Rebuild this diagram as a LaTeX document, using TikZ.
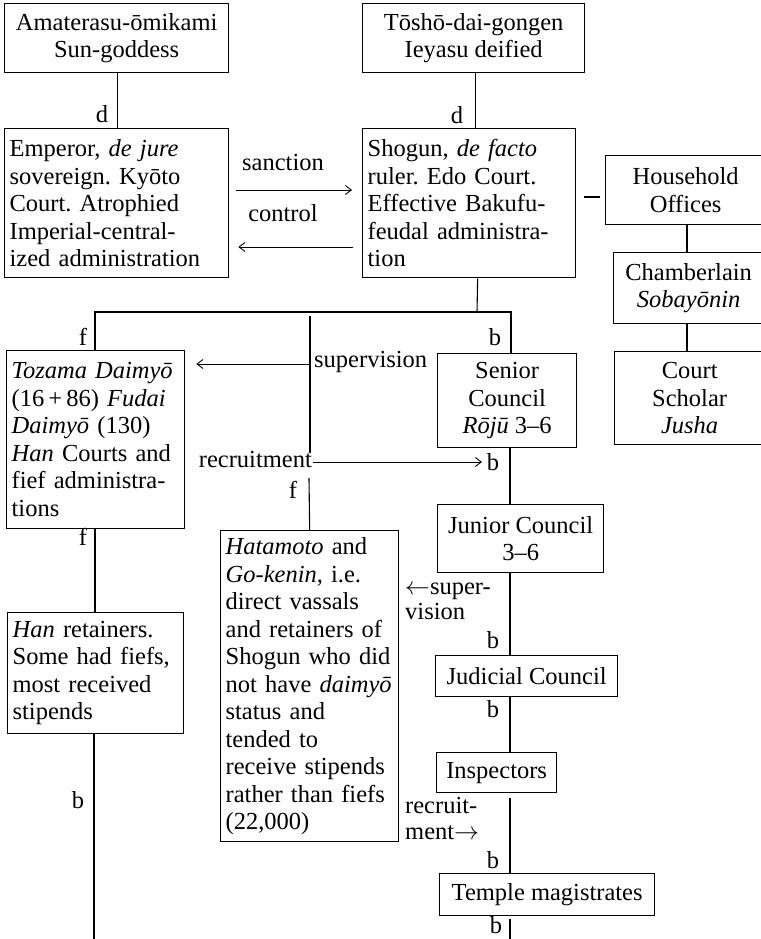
\documentclass[tikz,border=0pt]{standalone}
\usepackage{fontspec}
\setmainfont{Liberation Serif}
\usetikzlibrary{arrows.meta}
\frenchspacing
\newcommand{\fs}{\fontsize{24.5}{27.5}\selectfont}
\tikzset{
  box/.style={draw, line width=1.3pt, inner xsep=5pt, inner ysep=3pt, font=\fs, anchor=north west},
  conn/.style={line width=1.1pt},
  arr/.style={line width=0.9pt, -{Straight Barb[length=6pt,width=9pt]}},
  lbl/.style={font=\fs, inner sep=0pt},
}
\begin{document}
\begin{tikzpicture}[x=1pt,y=-1pt]
\fill[white] (0,0) rectangle (760,939);
\useasboundingbox (0,0) rectangle (760,939);

% boxes
\node[box, minimum width=224pt, minimum height=69pt, align=center] (ama) at (4,3)
  {Amaterasu-ōmikami\\Sun-goddess};
\node[box, minimum width=222pt, minimum height=69pt, align=center] (tosho) at (362,3)
  {Tōshō-dai-gongen\\Ieyasu deified};
\node[box, text width=214pt, minimum height=149pt, align=left] (emp) at (4,128)
  {Emperor, \textit{de jure}\\sovereign. Kyōto\\Court. Atrophied\\Imperial-central-\\ized administration};
\node[box, text width=203pt, minimum height=149pt, align=left] (shog) at (362,128)
  {Shogun, \textit{de facto}\\ruler. Edo Court.\\Effective Bakufu-\\feudal administra-\\tion};
\node[box, minimum width=160pt, minimum height=69pt, align=center] (house) at (605,155)
  {Household\\Offices};
\node[box, minimum width=150pt, minimum height=71pt, align=center] (chamb) at (613,252)
  {Chamberlain\\\textit{Sobayōnin}};
\node[box, minimum width=150pt, minimum height=93pt, align=center] (court) at (614,351)
  {Court\\Scholar\\\textit{Jusha}};
\node[box, text width=168pt, minimum height=178pt, align=left] (toz) at (6,350)
  {\textit{Tozama Daimyō}\\(16\,+\,86) \textit{Fudai}\\\textit{Daimyō} (130)\\\textit{Han} Courts and\\fief administra-\\tions};
\node[box, minimum width=139pt, minimum height=94pt, align=center] (senior) at (437,353)
  {Senior\\Council\\\textit{Rōjū} 3–6};
\node[box, minimum width=166pt, minimum height=68pt, align=center] (junior) at (437,504)
  {Junior Council\\3–6};
\node[box, text width=166pt, minimum height=121pt, align=left] (han) at (7,612)
  {\textit{Han} retainers.\\Some had fiefs,\\most received\\stipends};
\node[box, text width=168pt, minimum height=311pt, align=left] (hata) at (220,530)
  {\textit{Hatamoto} and\\\textit{Go-kenin}, i.e.\\direct vassals\\and retainers of\\Shogun who did\\not have \textit{daimyō}\\status and\\tended to\\receive stipends\\rather than fiefs\\(22,000)};
\node[box, minimum width=182pt, minimum height=41pt, align=center] (judicial) at (435,655)
  {Judicial Council};
\node[box, minimum width=120pt, minimum height=40pt, align=center] (insp) at (436,752)
  {Inspectors};
\node[box, minimum width=215pt, minimum height=42pt, align=center] (temple) at (439,873)
  {Temple magistrates};

% helper coordinates
\coordinate (colx) at (510,0);
\coordinate (rcol) at (687,0);
\coordinate (barL) at (95,312);
\coordinate (barM) at (477,312);
\coordinate (barR) at (511,312);
\coordinate (sy) at (0,190);
\coordinate (cy) at (0,247);
\coordinate (dashy) at (0,197);
\coordinate (midtop) at (310,316);
\coordinate (supv) at (310,364);
\coordinate (midbot) at (310,453);
\coordinate (rec1) at (313,462);
\coordinate (rec2) at (482,462);
\coordinate (fmid) at (309,478);
\coordinate (hanbot) at (94,939);
\coordinate (tbot) at (510,939);

% connectors
\draw[conn] ([xshift=1pt]ama.south) -- ([xshift=1pt]emp.north);
\draw[conn] ([xshift=2pt]tosho.south) -- ([xshift=2pt]tosho.south |- shog.north);
\draw[conn] ([xshift=8.5pt]shog.south) -- (barM);
\draw[conn] (toz.north -| barL) -- (barL) -- (barR) -- (senior.north -| barR);
\draw[conn] (midtop) -- (midbot);
\draw[conn] (fmid) -- (hata.north);
\draw[conn] (toz.south -| barL) -- (han.north -| barL);
\draw[conn] (han.south -| hanbot) -- (hanbot);
\draw[conn] (senior.south -| colx) -- (junior.north -| colx);
\draw[conn] (junior.south -| colx) -- (judicial.north -| colx);
\draw[conn] (judicial.south -| colx) -- (insp.north -| colx);
\draw[conn, shorten <=5pt] (insp.south -| colx) -- (temple.north -| colx);
\draw[conn, shorten <=3pt] (temple.south -| colx) -- (tbot);
\draw[conn] (house.south -| rcol) -- (chamb.north -| rcol);
\draw[conn] (chamb.south -| rcol) -- (court.north -| rcol);
\draw[conn, shorten <=8pt, shorten >=5pt] (shog.east |- dashy) -- (house.west |- dashy);

% arrows
\draw[arr, shorten <=7pt, shorten >=10pt] (emp.east |- sy) -- (shog.west |- sy);
\draw[arr, shorten <=9pt, shorten >=9pt] (shog.west |- cy) -- (emp.east |- cy);
\draw[arr, shorten >=11pt] (supv) -- (toz.east |- supv);
\draw[arr] (rec1) -- (rec2);

% labels
\node[lbl] (lsanc) at (283,163) {sanction};
\node[lbl] (lctrl) at (283,213) {control};
\node[lbl, anchor=west] (lsupv) at (314,362) {supervision};
\node[lbl, anchor=east] (lrecr) at (312,460) {recruitment};
\node[lbl, anchor=base west] (lsupv2a) at (405,594) {$\leftarrow$super-};
\node[lbl, anchor=base west] (lsupv2b) at (405,619) {vision};
\node[lbl, anchor=base west] (lrecr2a) at (405,813) {recruit-};
\node[lbl, anchor=base west] (lrecr2b) at (405,839) {ment$\rightarrow$};

\node[lbl] (d1) at (102,114) {d};
\node[lbl] (d2) at (457,115) {d};
\node[lbl] (f1) at (83,337) {f};
\node[lbl] (b1) at (495,337) {b};
\node[lbl] (b2) at (493,462) {b};
\node[lbl] (f2) at (293,490) {f};
\node[lbl] (f3) at (83,537) {f};
\node[lbl] (b3) at (78,800) {b};
\node[lbl] (b4) at (493,640) {b};
\node[lbl] (b5) at (493,709) {b};
\node[lbl] (b6) at (493,860) {b};
\node[lbl] (b7) at (496,925) {b};
\end{tikzpicture}
\end{document}
